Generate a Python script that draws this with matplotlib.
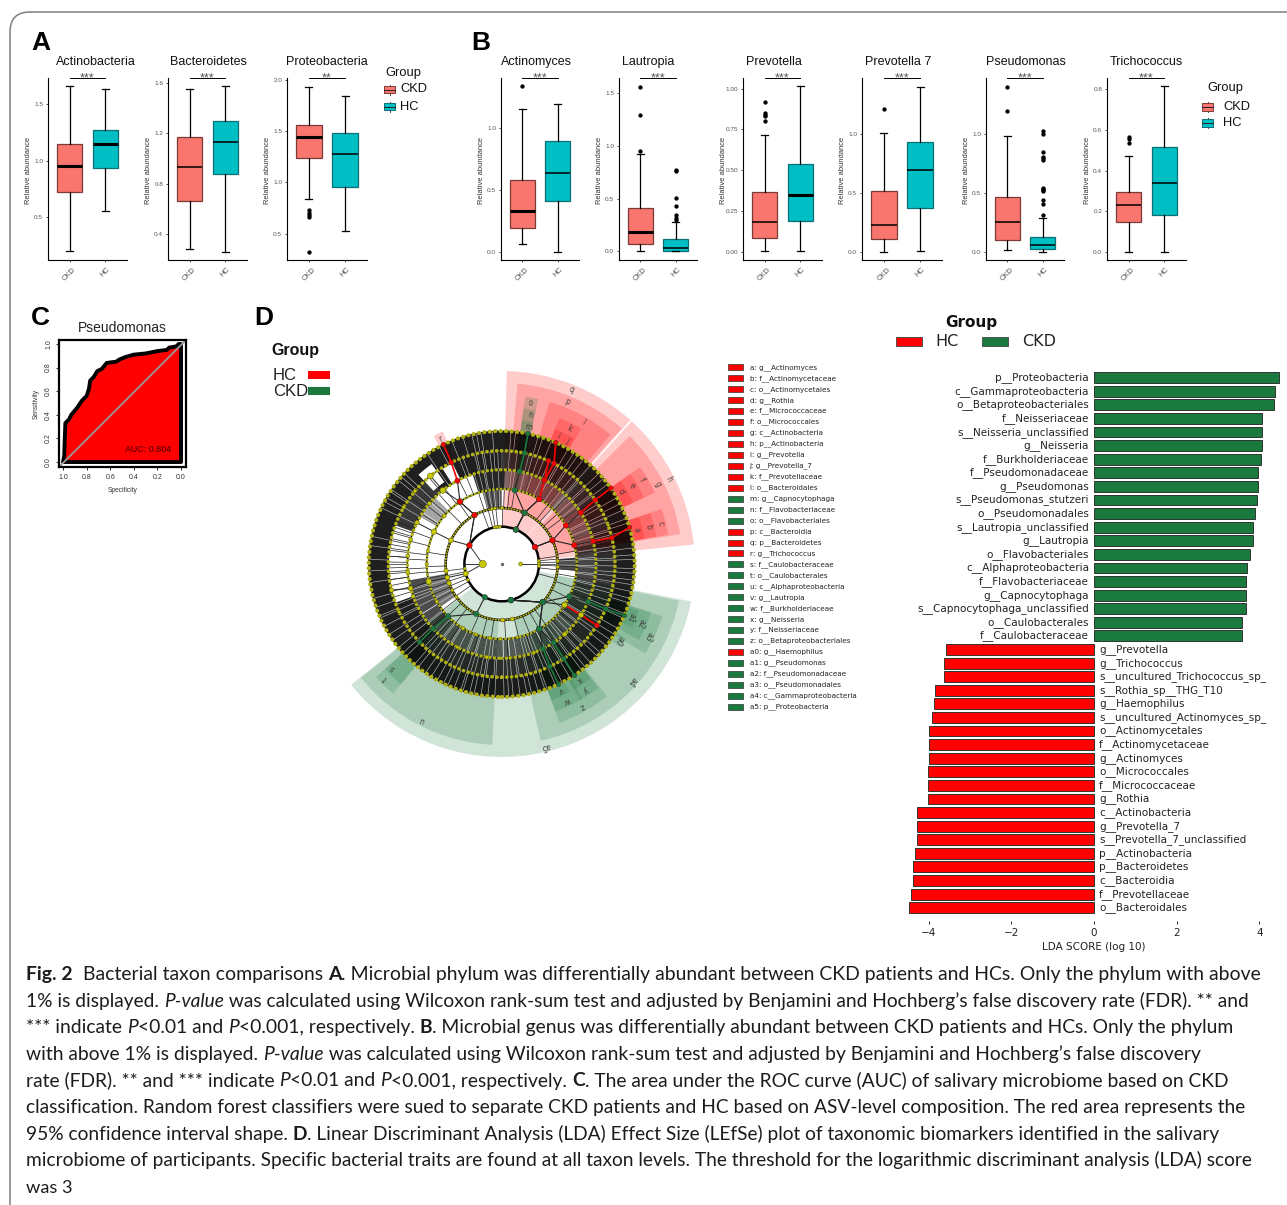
import numpy as np
import matplotlib
matplotlib.use("Agg")
import matplotlib.pyplot as plt
from matplotlib.patches import Wedge, Rectangle, Circle
from matplotlib.path import Path
from matplotlib.patches import PathPatch

W, H = 1287, 1205
RED_BOX = "#F8766D"
TEAL_BOX = "#00BFC4"
RED = "#ff0000"
GREEN = "#1a7a3e"
ARIAL = "Liberation Sans"

# panel A + B boxplots: whislo, q1, median, q3, whishi
box_names = ["Actinobacteria", "Bacteroidetes", "Proteobacteria", "Actinomyces", "Lautropia",
             "Prevotella", "Prevotella 7", "Pseudomonas", "Trichococcus"]
ckd_stats = [[0.20, 0.72, 0.95, 1.15, 1.66], [0.283, 0.665, 0.93, 1.17, 1.553], [0.838, 1.234, 1.445, 1.56, 1.93],
             [0.062, 0.194, 0.33, 0.58, 1.154], [0.0, 0.07, 0.18, 0.41, 0.92], [0.006, 0.086, 0.184, 0.37, 0.716],
             [0.0, 0.11, 0.228, 0.515, 1.006], [0.014, 0.10, 0.25, 0.466, 0.98], [0.0, 0.145, 0.232, 0.296, 0.471]]
hc_stats = [[0.55, 0.935, 1.15, 1.27, 1.63], [0.254, 0.875, 1.13, 1.295, 1.575], [0.526, 0.95, 1.276, 1.48, 1.84],
            [0.0, 0.407, 0.636, 0.898, 1.194], [0.0, 0.006, 0.03, 0.117, 0.275], [0.005, 0.19, 0.347, 0.54, 1.016],
            [0.008, 0.375, 0.693, 0.93, 1.394], [0.0, 0.022, 0.056, 0.124, 0.285], [0.0, 0.18, 0.338, 0.516, 0.816]]
ckd_fliers = [[], [], [0.727, 0.70, 0.68, 0.66, 0.32], [1.337], [0.95, 1.29, 1.56],
              [0.80, 0.83, 0.84, 0.85, 0.92], [1.208], [1.19, 1.395], [0.535, 0.555, 0.565]]
hc_fliers = [[], [], [], [], [0.30, 0.32, 0.34, 0.43, 0.51, 0.76, 0.77], [], [],
             [0.31, 0.40, 0.44, 0.51, 0.52, 0.53, 0.54, 0.78, 0.79, 0.80, 0.84, 1.0, 1.02], []]
box_ylims = [(0.12, 1.73), (0.193, 1.64), (0.243, 2.016), (-0.067, 1.404), (-0.082, 1.642),
             (-0.049, 1.065), (-0.068, 1.47), (-0.07, 1.47), (-0.041, 0.856)]
box_yticks = [[0.5, 1.0, 1.5], [0.4, 0.8, 1.2, 1.6], [0.5, 1.0, 1.5, 2.0], [0.0, 0.5, 1.0], [0.0, 0.5, 1.0, 1.5],
              [0.0, 0.25, 0.5, 0.75, 1.0], [0.0, 0.5, 1.0], [0.0, 0.5, 1.0], [0.0, 0.2, 0.4, 0.6, 0.8]]
box_ytick_fmt = ["%.1f", "%.1f", "%.1f", "%.1f", "%.1f", "%.2f", "%.1f", "%.1f", "%.1f"]
box_stars = ["***", "***", "**", "***", "***", "***", "***", "***", "***"]

# panel C ROC
roc_spec = [1.0, 0.99, 0.985, 0.98, 0.95, 0.93, 0.88, 0.84, 0.80, 0.78, 0.77, 0.74, 0.71, 0.67, 0.63,
            0.55, 0.52, 0.47, 0.40, 0.30, 0.20, 0.12, 0.10, 0.04, 0.02, 0.0]
roc_sens = [0.0, 0.05, 0.20, 0.33, 0.36, 0.40, 0.46, 0.52, 0.56, 0.62, 0.69, 0.72, 0.77, 0.79, 0.84,
            0.85, 0.87, 0.89, 0.91, 0.92, 0.94, 0.95, 0.97, 0.98, 1.0, 1.0]

# panel D LDA
lda_green_names = ["p__Proteobacteria", "c__Gammaproteobacteria", "o__Betaproteobacteriales", "f__Neisseriaceae",
                   "s__Neisseria_unclassified", "g__Neisseria", "f__Burkholderiaceae", "f__Pseudomonadaceae",
                   "g__Pseudomonas", "s__Pseudomonas_stutzeri", "o__Pseudomonadales", "s__Lautropia_unclassified",
                   "g__Lautropia", "o__Flavobacteriales", "c__Alphaproteobacteria", "f__Flavobacteriaceae",
                   "g__Capnocytophaga", "s__Capnocytophaga_unclassified", "o__Caulobacterales", "f__Caulobacteraceae"]
lda_green = [4.47, 4.38, 4.35, 4.07, 4.06, 4.06, 4.05, 3.96, 3.96, 3.95, 3.89, 3.85, 3.85, 3.77, 3.70, 3.67, 3.67,
             3.67, 3.57, 3.57]
lda_red_names = ["g__Prevotella", "g__Trichococcus", "s__uncultured_Trichococcus_sp_", "s__Rothia_sp__THG_T10",
                 "g__Haemophilus", "s__uncultured_Actinomyces_sp_", "o__Actinomycetales", "f__Actinomycetaceae",
                 "g__Actinomyces", "o__Micrococcales", "f__Micrococcaceae", "g__Rothia", "c__Actinobacteria",
                 "g__Prevotella_7", "s__Prevotella_7_unclassified", "p__Actinobacteria", "p__Bacteroidetes",
                 "c__Bacteroidia", "f__Prevotellaceae", "o__Bacteroidales"]
lda_red = [-3.59, -3.63, -3.63, -3.85, -3.87, -3.91, -3.98, -3.98, -3.99, -4.02, -4.02, -4.02, -4.29, -4.29, -4.29,
           -4.33, -4.38, -4.38, -4.43, -4.48]

# cladogram key
clade_keys = ["a: g__Actinomyces", "b: f__Actinomycetaceae", "c: o__Actinomycetales", "d: g__Rothia",
              "e: f__Micrococcaceae", "f: o__Micrococcales", "g: c__Actinobacteria", "h: p__Actinobacteria",
              "i: g__Prevotella", "j: g__Prevotella_7", "k: f__Prevotellaceae", "l: o__Bacteroidales",
              "m: g__Capnocytophaga", "n: f__Flavobacteriaceae", "o: o__Flavobacteriales", "p: c__Bacteroidia",
              "q: p__Bacteroidetes", "r: g__Trichococcus", "s: f__Caulobacteraceae", "t: o__Caulobacterales",
              "u: c__Alphaproteobacteria", "v: g__Lautropia", "w: f__Burkholderiaceae", "x: g__Neisseria",
              "y: f__Neisseriaceae", "z: o__Betaproteobacteriales", "a0: g__Haemophilus", "a1: g__Pseudomonas",
              "a2: f__Pseudomonadaceae", "a3: o__Pseudomonadales", "a4: c__Gammaproteobacteria",
              "a5: p__Proteobacteria"]
clade_key_hc = "abcdefghijklpqr"

# cladogram sectors: label, angle low, angle high, taxon level, label angle, group
sector_labels = ["q", "h", "p", "g", "l", "k", "i", "j", "o", "n", "m", "c", "b", "a", "f", "e", "d", "r",
                 "a5", "a4", "u", "z", "a3", "a2", "a1", "w", "v", "y", "x", "t", "s", "a0"]
sector_low = [48.2, 5.8, 48.5, 9.5, 50, 59.5, 64.5, 60, 77.5, 77.5, 77.5, 10, 10, 10, 25, 25, 25, 114,
              -141.3, -77.6, -141, -70, -32, -29, -26, -70, -70, -60, -60, -138, -138, -35]
sector_high = [88.5, 47.7, 85, 45, 73.6, 68.5, 68.5, 64.5, 82, 82, 82, 19, 19, 19, 35, 35, 35, 118,
               -11.2, -11.7, -93, -51.5, -18, -18, -19, -59, -62, -52, -52, -130, -130, -31]
sector_level = [1, 1, 2, 2, 3, 4, 5, 5, 3, 4, 5, 3, 4, 5, 3, 4, 5, 5,
                1, 2, 2, 3, 3, 4, 5, 4, 5, 4, 5, 3, 4, 5]
sector_label_angle = [68, 27, 68, 27, 60, 63.6, 66, 62, 80, 79, 79, 14.4, 14.3, 14.2, 31, 31, 31, 116,
                      -76.4, -42, -117, -60.5, -26.4, -23.2, -22.6, -64.6, -65, -56.5, -56, -135.4, -136.3, -33]
sector_hc = "qhpglkijcbafedr"

# node lineages: angle at rings 1..6, None where the branch stops
lineage_red = [[27, 25, 14.5, 14, 13.4, 16], [27, 25, 31, 33, 34.4, 34.8], [67.5, 66, 60, 63, 62.5, 66],
               [67.5, 66, 60, 63, 65.6, None], [150, 119, 123.8, 118, 116.4, 116]]
lineage_green = [[67.5, 66, 80, 79, 78.4, 78.6], [-75.7, -43, -60, -56.6, -56.7, -56.8],
                 [-75.7, -43, -60, -64, -64.8, -64.7], [-75.7, -43, -25.6, -23.5, -23.4, -22.8],
                 [-117, -117, -135.7, -136.7, -136.4, None]]
lineage_haem = [-75.7, -43, -33, -32.7, -32.8, None]

# yellow nodes: ring, angle, abundance
node_ring = [0, 0, 1, 1, 1, 1, 1, 1, 1, 1, 1, 1, 2, 2, 2, 2, 2, 2, 2, 2, 2, 2, 2, 2, 2, 2,
             3, 3, 3, 3, 3, 3, 3, 3, 3, 3, 3, 3, 3,
             4, 4, 4, 4, 4, 4, 4, 4, 4, 4, 4, 4, 4, 4, 5, 5, 5, 5, 5, 5, 5, 5, 5]
node_angle = [180, 0, 150, 195, 0, 5, -3, 97, 101, 93, 187, 205, 155, 119, 194, 187, 200, -89, -79, 90, 100, 97,
              3, -3, 208, 216, 123.8, 154.5, 193.5, -33, -99, -121, -91, -110, -78, 170, 180, 140, 210,
              128.6, 154, 195, 185, 175, 165, 200, -32.7, -99, -85, -70, -48, -118, 140, 129, 193.3, -136.4,
              140, 150, 205, -105, -85, 20]
node_abund = [28, 8, 14, 14, 7, 5, 5, 6, 5, 5, 5, 5, 12, 14, 12, 10, 10, 8, 8, 5, 5, 5, 6, 6, 5, 5,
              20, 16, 16, 18, 7, 7, 5, 5, 5, 6, 6, 8, 6,
              18, 10, 12, 8, 7, 7, 8, 14, 8, 5, 6, 10, 6, 8, 18, 10, 8, 7, 6, 6, 5, 5, 4]

# dark bands of dense fine branches: angle low, angle high, ring in, ring out, density
band_low = [0, 200, 225, -10, 12, 90, 130, 88, 190, 225, 320, 350, 12, 135, 90, 190, -5]
band_high = [360, 225, 350, 12, 90, 130, 160, 108, 225, 320, 350, 372, 88, 150, 105, 215, 5]
band_in = [5, 4, 4, 4, 4, 4, 4, 3, 3, 3, 3, 3, 3, 3, 2, 2, 2]
band_out = [6, 5, 5, 5, 5, 5, 5, 4, 4, 4, 4, 4, 4, 4, 3, 3, 3]
band_dark = [0.88, 0.88, 0.8, 0.82, 0.78, 0.88, 0.78, 0.85, 0.7, 0.6, 0.72, 0.72, 0.5, 0.35, 0.65, 0.55, 0.7]

# pale gaps in the dark bands
gaps_outer = [101, 107, 139, 147, 152, 168, 172, 178, 183, 188, 195, 199, 203, 212, 219, 224, 231, 238, 244, 249,
              253, 258, 264, 271, 275, 281, 286, 290, 297, 303, 309, 318, 322, 328, 336, 343, 348, 353, 358, 4,
              20, 27, 40, 52, 57, 72, 84]
gaps_mid = [94, 99, 103, 112, 118, 124, 137, 141, 146, 150, 155, 204, 208, 215, 222, 229, 235, 241, 246, 252, 256,
            261, 267, 273, 278, 283, 289, 294, 301, 307, 312, 316, 325, 331, 338, 345, 351, 356, 2, 7, 15, 18, 24,
            30, 37, 43, 48, 55, 60, 68, 74, 86]
gaps_inner = [110, 92, 96, 100, 104, 196, 201, 207, 212, 218, 227, 232, 237, 243, 248, 254, 259, 262, 266, 271, 275,
              279, 284, 288, 292, 297, 302, 306, 311, 315, 323, 329, 335, 341, 347, 354, 359, 3, 9, 14, 17, 22, 26,
              32, 38, 42, 47, 51, 56, 61, 65, 71, 76, 82]

# fine single branches where the bands are thin
thin_r01 = [90, 96, 100, 104, 110, 187, 192, 198, 203, 208, 215, 354, 358, 0, 2, 5, 8, 345]
thin_r12 = [88, 93, 98, 102, 108, 125, 135, 171, 182, 187, 191, 199, 204, 209, 218, 224, 232, 246, 255, 262, 273,
            283, 292, 300, 306, 324, 333, 342, 350, 355, 358, 4, 10, 37, 42, 48, 52, 80, 84]
thin_r23 = [112, 117, 127, 132, 138, 142, 148, 160, 166, 173, 177, 183, 186, 222, 228, 236, 244, 252, 258, 266, 274,
            281, 289, 296, 304, 312, 320, 330, 338, 345, 350, 8, 12, 20, 36, 40, 46, 52, 57, 72]
thin_r34 = [113, 122, 130, 136, 144, 158, 163, 168, 172, 176, 180, 184, 188]
thin_r45 = [161, 164, 167, 170, 173, 176, 179, 182, 185, 188, 191, 194, 197]

# caption lines: text + r/b/i style, with where each line ends
caption_lines = [
    [("Fig. 2", "b"), ("  Bacterial taxon comparisons ", "r"), ("A", "b"),
     (". Microbial phylum was differentially abundant between CKD patients and HCs. Only the phylum with above", "r")],
    [("1% is displayed. ", "r"), ("P-value", "i"),
     (" was calculated using Wilcoxon rank-sum test and adjusted by Benjamini and Hochberg\u2019s false discovery rate (FDR). ** and", "r")],
    [("*** indicate ", "r"), ("P", "i"), ("<0.01 and ", "r"), ("P", "i"), ("<0.001, respectively. ", "r"), ("B", "b"),
     (". Microbial genus was differentially abundant between CKD patients and HCs. Only the phylum", "r")],
    [("with above 1% is displayed. ", "r"), ("P-value", "i"),
     (" was calculated using Wilcoxon rank-sum test and adjusted by Benjamini and Hochberg\u2019s false discovery", "r")],
    [("rate (FDR). ** and *** indicate ", "r"), ("P", "i"), ("<0.01 and ", "r"), ("P", "i"),
     ("<0.001, respectively. ", "r"), ("C", "b"),
     (". The area under the ROC curve (AUC) of salivary microbiome based on CKD", "r")],
    [("classification. Random forest classifiers were sued to separate CKD patients and HC based on ASV-level composition. The red area represents the", "r")],
    [("95% confidence interval shape. ", "r"), ("D", "b"),
     (". Linear Discriminant Analysis (LDA) Effect Size (LEfSe) plot of taxonomic biomarkers identified in the salivary", "r")],
    [("microbiome of participants. Specific bacterial traits are found at all taxon levels. The threshold for the logarithmic discriminant analysis (LDA) score", "r")],
    [("was 3", "r")],
]
caption_ends = [1260, 1253, 1239, 1203, 1226, 1243, 1221, 1260, 73]


fig = plt.figure(figsize=(W / 100, H / 100), dpi=100)
page = fig.add_axes([0, 0, 1, 1])
page.set_xlim(0, W)
page.set_ylim(H, 0)
page.axis("off")


def px_axes(left, top, right, bottom):
    ax = fig.add_axes([left / W, 1 - bottom / H, (right - left) / W, (bottom - top) / H])
    ax.patch.set_alpha(0)
    return ax


# page frame
frame = Path([(1287, 12), (30, 12), (10, 12), (10, 32), (10, 1205)],
             [Path.MOVETO, Path.LINETO, Path.CURVE3, Path.CURVE3, Path.LINETO])
page.add_patch(PathPatch(frame, fc="none", ec="#7f7f7f", lw=1.1))

for letter, x, y in [("A", 31, 50), ("B", 471, 50), ("C", 31, 325), ("D", 254, 325)]:
    page.text(x, y, letter, fontsize=19, fontweight="bold", family=ARIAL, color="black", va="baseline")

# panels A and B
box_left = [48, 168, 287, 501, 619, 743, 862, 986, 1107]
box_right = [127, 247, 367, 579, 697, 822, 942, 1064, 1186]
title_x = [96, 208, 327, 536, 648, 774, 898, 1026, 1146]
ckd_median_lw = [2.2, 1.1, 2.2, 2.2, 2.2, 1.1, 1.1, 1.1, 1.1]
hc_median_lw = [2.2, 1.1, 1.1, 1.1, 1.1, 2.2, 1.1, 1.1, 1.1]

for i, name in enumerate(box_names):
    ax = px_axes(box_left[i], 78, box_right[i], 260)
    top_y = box_ylims[i][1]
    for pos, stats, fl, col, edge, mlw in [(1, ckd_stats[i], ckd_fliers[i], RED_BOX, "#7c3b36", ckd_median_lw[i]),
                                           (2, hc_stats[i], hc_fliers[i], TEAL_BOX, "#0b6f73", hc_median_lw[i])]:
        st = {"whislo": stats[0], "q1": stats[1], "med": stats[2], "q3": stats[3], "whishi": stats[4], "fliers": fl}
        ax.bxp([st], positions=[pos], widths=0.7, patch_artist=True, capwidths=0.2,
               boxprops=dict(facecolor=col, edgecolor=edge, linewidth=0.9),
               medianprops=dict(color="black", linewidth=mlw, solid_capstyle="butt"),
               whiskerprops=dict(color="black", linewidth=0.9),
               capprops=dict(color="black", linewidth=0.9),
               flierprops=dict(marker="o", markersize=2.1, markerfacecolor="black", markeredgecolor="black"))
    ax.set_xlim(0.4, 2.6)
    ax.set_ylim(*box_ylims[i])
    ax.set_xticks([1, 2])
    ax.set_xticklabels(["CKD", "HC"], rotation=45, fontsize=5.4, color="#555555", family=ARIAL)
    ax.set_yticks(box_yticks[i])
    ax.set_yticklabels([box_ytick_fmt[i] % v for v in box_yticks[i]], fontsize=4.6, color="#555555", family=ARIAL)
    ax.tick_params(length=1.5, width=0.5, pad=2)
    ax.tick_params(axis="x", pad=3)
    for side in ["top", "right"]:
        ax.spines[side].set_visible(False)
    for side in ["left", "bottom"]:
        ax.spines[side].set_linewidth(0.8)
    ax.set_ylabel("Relative abundance", fontsize=5.4, color="#333333", family=ARIAL)
    ax.yaxis.set_label_coords(-0.2, 0.49)
    ax.plot([1, 2], [top_y, top_y], color="black", lw=0.7, clip_on=False)
    ax.annotate(box_stars[i], (1.5, top_y), xytext=(0, -0.5), textcoords="offset points", ha="center", va="center",
                fontsize=9, color="#555555", family=ARIAL)
    page.text(title_x[i], 62, name, ha="center", va="center", fontsize=9, color="#111111", family=ARIAL)


def box_key(x, y, w, h, col, edge):
    page.plot([x + w / 2, x + w / 2], [y - 1.5, y + h + 1.5], color="#222222", lw=0.6)
    page.add_patch(Rectangle((x, y), w, h, fc=col, ec=edge, lw=0.7, zorder=3))
    page.plot([x, x + w], [y + h / 2, y + h / 2], color="#222222", lw=0.7, zorder=4)


page.text(385, 73, "Group", fontsize=9.3, va="center", color="#111111", family=ARIAL)
box_key(384, 86, 11, 7, RED_BOX, "#7c3b36")
box_key(384, 103, 11, 7, TEAL_BOX, "#0b6f73")
page.text(400, 89.5, "CKD", fontsize=9.3, va="center", color="#111111", family=ARIAL)
page.text(400, 106.5, "HC", fontsize=9.3, va="center", color="#111111", family=ARIAL)

page.text(1207, 88, "Group", fontsize=9.3, va="center", color="#111111", family=ARIAL)
box_key(1202, 103, 11, 7.5, RED_BOX, "#7c3b36")
box_key(1202, 119, 11, 7.5, TEAL_BOX, "#0b6f73")
page.text(1223, 107.5, "CKD", fontsize=9.3, va="center", color="#111111", family=ARIAL)
page.text(1223, 123.5, "HC", fontsize=9.3, va="center", color="#111111", family=ARIAL)

# panel C
roc = px_axes(59, 340, 186, 467)
roc.set_xlim(1.034, -0.042)
roc.set_ylim(-0.042, 1.034)
roc.fill(roc_spec + [0.0, 1.0], roc_sens + [0.0, 0.0], facecolor=RED, edgecolor="black", lw=2.8, joinstyle="round")
roc.plot([1.034, -0.042], [-0.042, 1.034], color="#9a9a9a", lw=1.3)
roc.text(0.28, 0.105, "AUC: 0.804", ha="center", va="center", fontsize=6.4, color="#3a0000", family=ARIAL)
roc.set_xticks([1.0, 0.8, 0.6, 0.4, 0.2, 0.0])
roc.set_xticklabels(["1.0", "0.8", "0.6", "0.4", "0.2", "0.0"], fontsize=5, color="#333333", family=ARIAL)
roc.set_yticks([0.0, 0.2, 0.4, 0.6, 0.8, 1.0])
roc.set_yticklabels(["0.0", "0.2", "0.4", "0.6", "0.8", "1.0"], fontsize=5, color="#333333", family=ARIAL,
                    rotation=90, va="center")
roc.tick_params(length=2, width=0.6, pad=3)
for s in roc.spines.values():
    s.set_linewidth(1.6)
roc.set_xlabel("Specificity", fontsize=4.8, color="#333333", family=ARIAL, labelpad=4)
roc.set_ylabel("Sensitivity", fontsize=4.8, color="#333333", family=ARIAL, labelpad=4)
page.text(122, 328, "Pseudomonas", ha="center", va="center", fontsize=10, color="#222222", family=ARIAL)

# panel D, left legend
page.text(271, 351, "Group", fontsize=11.5, fontweight="bold", va="center", color="#111111", family=ARIAL)
page.text(273, 375, "HC", fontsize=12, va="center", color="#222222", family=ARIAL)
page.text(273, 391, "CKD", fontsize=12, va="center", color="#222222", family=ARIAL)
page.add_patch(Rectangle((308, 371), 22, 8, fc=RED, ec="none"))
page.add_patch(Rectangle((308, 387), 22, 8, fc=GREEN, ec="none"))

# cladogram, one unit = one pixel, angles CCW from east
clado = px_axes(340, 360, 710, 760)
clado.set_xlim(340 - 501.7, 710 - 501.7)
clado.set_ylim(564 - 760, 564 - 360)
clado.axis("off")
ring_r = [19, 37.3, 56, 75, 94.3, 113.3, 133]
level_outer = {1: 193, 2: 181, 3: 169, 4: 157, 5: 145}
label_r = {1: 187.5, 2: 175.5, 3: 163.5, 4: 151.5, 5: 139.5}


def polar(r, deg):
    t = np.deg2rad(deg)
    return r * np.cos(t), r * np.sin(t)


for lab, lo, hi, lev, la in zip(sector_labels, sector_low, sector_high, sector_level, sector_label_angle):
    col = RED if lab in sector_hc else GREEN
    r_out = level_outer[lev]
    r_in = ring_r[lev]
    clado.add_patch(Wedge((0, 0), r_out, lo, hi, width=r_out - r_in, fc=col, ec="none", alpha=0.2, zorder=1))
    x, y = polar(label_r[lev], la)
    clado.text(x, y, lab, rotation=la - 90, ha="center", va="center", fontsize=5.5, color="#333333", alpha=0.85,
               zorder=8)

for lo, hi, r0, r1, dark in zip(band_low, band_high, band_in, band_out, band_dark):
    clado.add_patch(Wedge((0, 0), ring_r[r1], lo, hi, width=ring_r[r1] - ring_r[r0], fc="black", ec="none",
                          alpha=dark, zorder=2))

# white triangles left by the sparse families
for lo, hi, r0, r1 in [(125, 133, 100, 122), (116, 122, 92, 112)]:
    clado.add_patch(Wedge((0, 0), r1, lo, hi, width=r1 - r0, fc="white", ec="none", zorder=2.5))


def gap_color(deg):
    return "#ffd0d0" if 8 < deg % 360 < 88 else "white"


for gaps, r0, r1 in [(gaps_outer + gaps_mid, ring_r[5], ring_r[6]), (gaps_mid + gaps_inner, ring_r[4], ring_r[5]),
                     (gaps_inner + gaps_outer, ring_r[3], ring_r[4])]:
    for a in gaps:
        clado.plot(*zip(polar(r0, a), polar(r1, a)), color=gap_color(a), lw=0.45, alpha=0.7, zorder=3)

# gaps in the inner fans
for a in gaps_inner:
    if 90 < a < 105 or 190 < a < 215 or a < 5 or a > 355:
        clado.plot(*zip(polar(ring_r[2], a), polar(ring_r[3], a)), color=gap_color(a), lw=0.45, alpha=0.7, zorder=3)

for thin, r0, r1 in [(thin_r01, ring_r[1], ring_r[2]), (thin_r12, ring_r[2], ring_r[3]),
                     (thin_r23, ring_r[3], ring_r[4]), (thin_r34, ring_r[4], ring_r[5]),
                     (thin_r45, ring_r[4], ring_r[5])]:
    for a in thin:
        clado.plot(*zip(polar(r0, a), polar(r1, a)), color="#222222", lw=0.5, zorder=3)

# ring lines
for idx, lw in [(1, 1.8), (2, 1.8), (3, 1.2), (4, 0.9), (5, 0.7), (6, 0.7)]:
    clado.add_patch(Circle((0, 0), ring_r[idx], fc="none", ec="black", lw=lw, zorder=3.5))
for idx, lw in [(2, 1.5), (3, 2.0), (4, 2.4), (5, 2.6), (6, 2.9)]:
    clado.add_patch(Circle((0, 0), ring_r[idx], fc="none", ec="#b0b018", lw=lw, linestyle=(0, (0.1, 1.25)),
                           capstyle="round", zorder=4))

clado.plot(*zip(polar(ring_r[0], 180), polar(ring_r[1], 150)), color="#333333", lw=0.7, zorder=4)
clado.plot(*zip(polar(ring_r[0], 180), polar(ring_r[1], 195)), color="#333333", lw=0.7, zorder=4)
clado.plot([-ring_r[1], -ring_r[0]], [0, 0], color="#333333", lw=0.7, zorder=4)
clado.plot([ring_r[0], ring_r[1]], [0, 0], color="#333333", lw=0.7, zorder=4)

# yellow branches and nodes
for path in [[150, 155, 154.5, 154, None, None], [150, 119, 123.8, 128.6, 129, None],
             [195, 194, 193.5, 195, 193.3, None]]:
    for j in range(len(path) - 1):
        if path[j] is not None and path[j + 1] is not None:
            clado.plot(*zip(polar(ring_r[j + 1], path[j]), polar(ring_r[j + 2], path[j + 1])),
                       color="#222222", lw=0.7, zorder=4)
xs, ys = polar(np.array([ring_r[k] for k in node_ring]), np.array(node_angle))
clado.scatter(xs, ys, s=node_abund, c="#c9c900", edgecolors="#55551a", linewidths=0.35, zorder=5)
clado.scatter(0, 0, s=2, c="#666666", zorder=5)

# highlighted lineages


def draw_lineage(path, col, end_col=None):
    pts = [(ring_r[j + 1], a) for j, a in enumerate(path) if a is not None]
    for j in range(len(pts) - 1):
        last = j >= len(pts) - 3
        clado.plot(*zip(polar(*pts[j]), polar(*pts[j + 1])), color=col if last else "#222222",
                   lw=1.2 if last else 0.8, zorder=5.5)
    rr = np.array([p[0] for p in pts])
    aa = np.array([p[1] for p in pts])
    cols = [col] * len(pts)
    if end_col:
        cols = [GREEN, GREEN, "#c9c900", "#c9c900", end_col]
    sizes = [16, 16, 16, 15, 13, 11][:len(pts)]
    px, py = polar(rr, aa)
    clado.scatter(px, py, s=sizes, c=cols, edgecolors="#333333", linewidths=0.3, zorder=6)


for path in lineage_red:
    draw_lineage(path, RED)
for path in lineage_green:
    draw_lineage(path, GREEN)
draw_lineage(lineage_haem, RED, end_col=RED)

# key of the cladogram
key_y0, key_step = 367.3, 10.95
for k, key in enumerate(clade_keys):
    y = key_y0 + k * key_step
    tag = key.split(":")[0]
    col = RED if (len(tag) == 1 and tag in clade_key_hc) or tag == "a0" else GREEN
    page.add_patch(Rectangle((728, y - 3), 15, 6, fc=col, ec="#333333", lw=0.5))
    page.text(749.5, y, key, fontsize=5.2, va="center", color="#222222", family="DejaVu Sans")

# right LDA legend
page.text(945, 323, "Group", fontsize=11, fontweight="bold", va="center", color="#111111", family="DejaVu Sans")
page.add_patch(Rectangle((896, 336.5), 25.5, 9, fc=RED, ec="#444444", lw=0.6))
page.text(935, 341.5, "HC", fontsize=11.5, va="center", color="#222222", family="DejaVu Sans")
page.add_patch(Rectangle((982, 336.5), 25.5, 9, fc=GREEN, ec="#444444", lw=0.6))
page.text(1022, 341.5, "CKD", fontsize=11.5, va="center", color="#222222", family="DejaVu Sans")

# LDA bars
row_h = (907.7 - 377.7) / 39
lda = px_axes(900, 377.7 - row_h / 2 - 1, 1280, 907.7 + row_h / 2 + 7)
lda.set_xlim((900 - 1094) / 41.35, (1280 - 1094) / 41.35)
lda_vals = lda_green + lda_red
lda_names = lda_green_names + lda_red_names
rows = np.arange(len(lda_vals))
lda.barh(rows, lda_vals, height=0.8, color=[GREEN if v > 0 else RED for v in lda_vals], edgecolor="#333333", lw=0.7)
lda.set_ylim(39 + (row_h / 2 + 7) / row_h - 0.0, -0.5 - 1 / row_h)
for r, (v, n) in zip(rows, zip(lda_vals, lda_names)):
    if v > 0:
        lda.text(-0.12, r, n, ha="right", va="center", fontsize=7.45, color="#222222", family="DejaVu Sans")
    else:
        lda.text(0.12, r, n, ha="left", va="center", fontsize=7.45, color="#222222", family="DejaVu Sans")
for side in ["top", "right", "left", "bottom"]:
    lda.spines[side].set_visible(False)
lda.set_yticks([])
lda.set_xticks([-4, -2, 0, 2, 4])
lda.set_xticklabels(["\u22124", "\u22122", "0", "2", "4"], fontsize=7.5, color="#222222", family="DejaVu Sans")
lda.tick_params(axis="x", length=2.5, width=0.6, pad=2.5, direction="out")
page.text(1094, 947, "LDA SCORE (log 10)", ha="center", va="center", fontsize=7.5, color="#222222",
          family="DejaVu Sans")

# caption
renderer = fig.canvas.get_renderer()
STYLES = {"r": dict(), "b": dict(fontweight="bold"), "i": dict(fontstyle="italic")}
CAP_FONT = "Lato"


def seg_width(txt, style, size):
    probe = page.text(0, 0, "x" + txt + "x", fontsize=size, family=CAP_FONT, **STYLES[style])
    full = probe.get_window_extent(renderer).width
    probe.set_text("xx")
    base = probe.get_window_extent(renderer).width
    probe.remove()
    return full - base


for n, line in enumerate(caption_lines):
    y = 980.3 + n * 26.55
    size = 12.5
    for _ in range(3):
        natural = sum(seg_width(t, s, size) for t, s in line)
        size = size * (caption_ends[n] - 26) / natural
    x = 26.0
    for t, s in line:
        w = seg_width(t, s, size)
        page.text(x, y, t, fontsize=size, family=CAP_FONT, va="baseline", color="#1c1c1c", **STYLES[s])
        x += w

fig.savefig("out.png", dpi=100)
